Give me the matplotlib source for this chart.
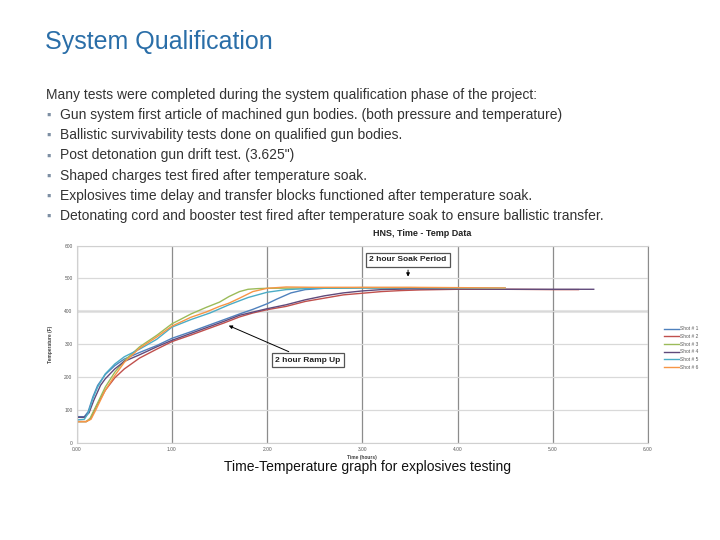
import matplotlib.pyplot as plt

plt.rcParams['font.family'] = ['Liberation Sans', 'DejaVu Sans']

title = "System Qualification"
intro = "Many tests were completed during the system qualification phase of the project:"
bullets = [
    "Gun system first article of machined gun bodies. (both pressure and temperature)",
    "Ballistic survivability tests done on qualified gun bodies.",
    "Post detonation gun drift test. (3.625\")",
    "Shaped charges test fired after temperature soak.",
    "Explosives time delay and transfer blocks functioned after temperature soak.",
    "Detonating cord and booster test fired after temperature soak to ensure ballistic transfer.",
]
caption = "Time-Temperature graph for explosives testing"

# time (hours) / temperature readings per shot
shot1_t = [0, .08, .12, .17, .22, .3, .4, .5, .66, .84, 1.0, 1.2, 1.36, 1.55, 1.71, 1.85,
           2.0, 2.1, 2.25, 2.4, 2.6, 3.0, 3.5, 4.0, 4.15]
shot1_v = [80, 80, 95, 140, 175, 208, 235, 255, 275, 296, 318, 338, 355, 375, 392, 406,
           423, 437, 456, 466, 470, 471, 470, 470, 470]
shot2_t = [0, .1, .15, .2, .3, .4, .5, .66, .84, 1.0, 1.2, 1.36, 1.55, 1.71, 1.85, 2.0,
           2.2, 2.4, 2.6, 2.8, 3.0, 3.2, 3.4, 3.6, 4.0, 4.5, 5.0, 5.27]
shot2_v = [65, 65, 75, 108, 160, 198, 225, 258, 285, 308, 328, 345, 365, 383, 395, 405,
           415, 430, 440, 450, 455, 460, 463, 465, 467, 467, 466, 466]
shot3_t = [0, .1, .14, .2, .3, .4, .5, .66, .84, 1.0, 1.2, 1.36, 1.5, 1.6, 1.71, 1.8,
           1.9, 2.0, 2.5, 3.0, 3.5, 4.0, 4.5]
shot3_v = [65, 65, 75, 110, 170, 215, 250, 292, 327, 362, 392, 412, 428, 445, 460, 467,
           469, 470, 471, 472, 471, 470, 470]
shot4_t = [0, .08, .13, .18, .25, .3, .4, .5, .66, .84, 1.0, 1.2, 1.36, 1.55, 1.71, 2.0,
           2.2, 2.4, 2.6, 2.8, 3.0, 3.2, 3.5, 4.0, 4.5, 5.0, 5.43]
shot4_v = [78, 78, 92, 130, 175, 195, 225, 248, 268, 292, 312, 333, 350, 370, 388, 408,
           420, 435, 447, 456, 462, 466, 468, 468, 467, 467, 467]
shot5_t = [0, .08, .12, .17, .22, .3, .4, .5, .66, .84, 1.0, 1.2, 1.4, 1.6, 1.8, 2.0,
           2.2, 2.5, 3.0, 3.5, 4.0, 4.5]
shot5_v = [70, 72, 90, 135, 170, 210, 240, 262, 285, 315, 352, 375, 395, 420, 442, 458,
           466, 470, 472, 472, 471, 470]
shot6_t = [0, .1, .15, .2, .3, .4, .5, .66, .84, 1.0, 1.2, 1.36, 1.5, 1.6, 1.71, 1.85,
           2.0, 2.2, 2.5, 3.0, 3.5, 4.0, 4.5]
shot6_v = [65, 65, 72, 100, 160, 205, 245, 288, 322, 355, 382, 398, 415, 425, 440, 460,
           470, 474, 473, 473, 473, 472, 471]

series = [
    ("Shot # 1", shot1_t, shot1_v, "#4f81bd"),
    ("Shot # 2", shot2_t, shot2_v, "#c0504d"),
    ("Shot # 3", shot3_t, shot3_v, "#9bbb59"),
    ("Shot # 4", shot4_t, shot4_v, "#604a7b"),
    ("Shot # 5", shot5_t, shot5_v, "#4bacc6"),
    ("Shot # 6", shot6_t, shot6_v, "#f79646"),
]

x_ticks = [0, 1, 2, 3, 4, 5, 6]
x_labels = ["0.00", "1.00", "2.00", "3.00", "4.00", "5.00", "6.00"]
y_ticks = [0, 100, 200, 300, 400, 500, 600]

W, H = 720, 540
fig = plt.figure(figsize=(7.2, 5.4), dpi=100)

def px(x, y):
    return x / W, 1 - y / H

text_col = "#333333"
fig.text(*px(45, 42), title, fontsize=18, color="#2a6ea8", va="center")
fig.text(*px(46, 95), intro, fontsize=10, color=text_col, va="center")
for i, b in enumerate(bullets):
    y = 115 + i * 20.2
    fig.text(*px(46, y + 1), "\u25aa", fontsize=9, color="#7d8fa3", va="center")
    fig.text(*px(60, y), b, fontsize=10, color=text_col, va="center")

fig.text(*px(368, 467), caption, fontsize=10, color="#111111", ha="center", va="center")
fig.text(*px(422, 233), "HNS, Time - Temp Data", fontsize=6.5, fontweight="bold",
         color="#222222", ha="center", va="center")

ax = fig.add_axes([76.7 / W, 1 - 443 / H, (648 - 76.7) / W, (443 - 245.5) / H])
for name, t, v, c in series:
    ax.plot(t, v, color=c, lw=1.0, label=name)

ax.set_xlim(0, 6)
ax.set_ylim(0, 600)
ax.set_xticks(x_ticks)
ax.set_xticklabels(x_labels)
ax.set_yticks(y_ticks)
ax.tick_params(labelsize=3.5, colors="#595959", length=0, pad=3)
ax.xaxis.grid(True, color="#8c8c8c", lw=0.9)
ax.yaxis.grid(True, color="#d9d9d9", lw=0.9)
ax.axhline(400, color="#e6e6e6", lw=2.2, zorder=0.5)
ax.set_axisbelow(True)
for s in ["left", "bottom", "top"]:
    ax.spines[s].set_color("#d0d0d0")
ax.spines["right"].set_color("#8c8c8c")
ax.set_xlabel("Time (hours)", fontsize=3.5, fontweight="bold", color="#404040", labelpad=2)
ax.set_ylabel("Temperature (F)", fontsize=3.5, fontweight="bold", color="#404040", labelpad=8)

box = dict(boxstyle="square,pad=0.4", fc="white", ec="#555555", lw=0.9)
arrow = dict(arrowstyle="-|>", color="black", lw=0.7, mutation_scale=5)
ax.annotate("2 hour Soak Period", xy=(3.48, 497), xytext=(3.48, 556),
            fontsize=6, fontweight="bold", color="#222222", ha="center", va="center",
            bbox=box, arrowprops=arrow)
ax.annotate("2 hour Ramp Up", xy=(1.57, 360), xytext=(2.43, 252),
            fontsize=6, fontweight="bold", color="#222222", ha="center", va="center",
            bbox=box, arrowprops=arrow)

fig.legend(loc="center left", bbox_to_anchor=px(660, 348), fontsize=3.5,
           frameon=False, handlelength=3, labelspacing=0.55, handletextpad=0.3,
           labelcolor="#595959")

fig.savefig("out.png", dpi=100)
